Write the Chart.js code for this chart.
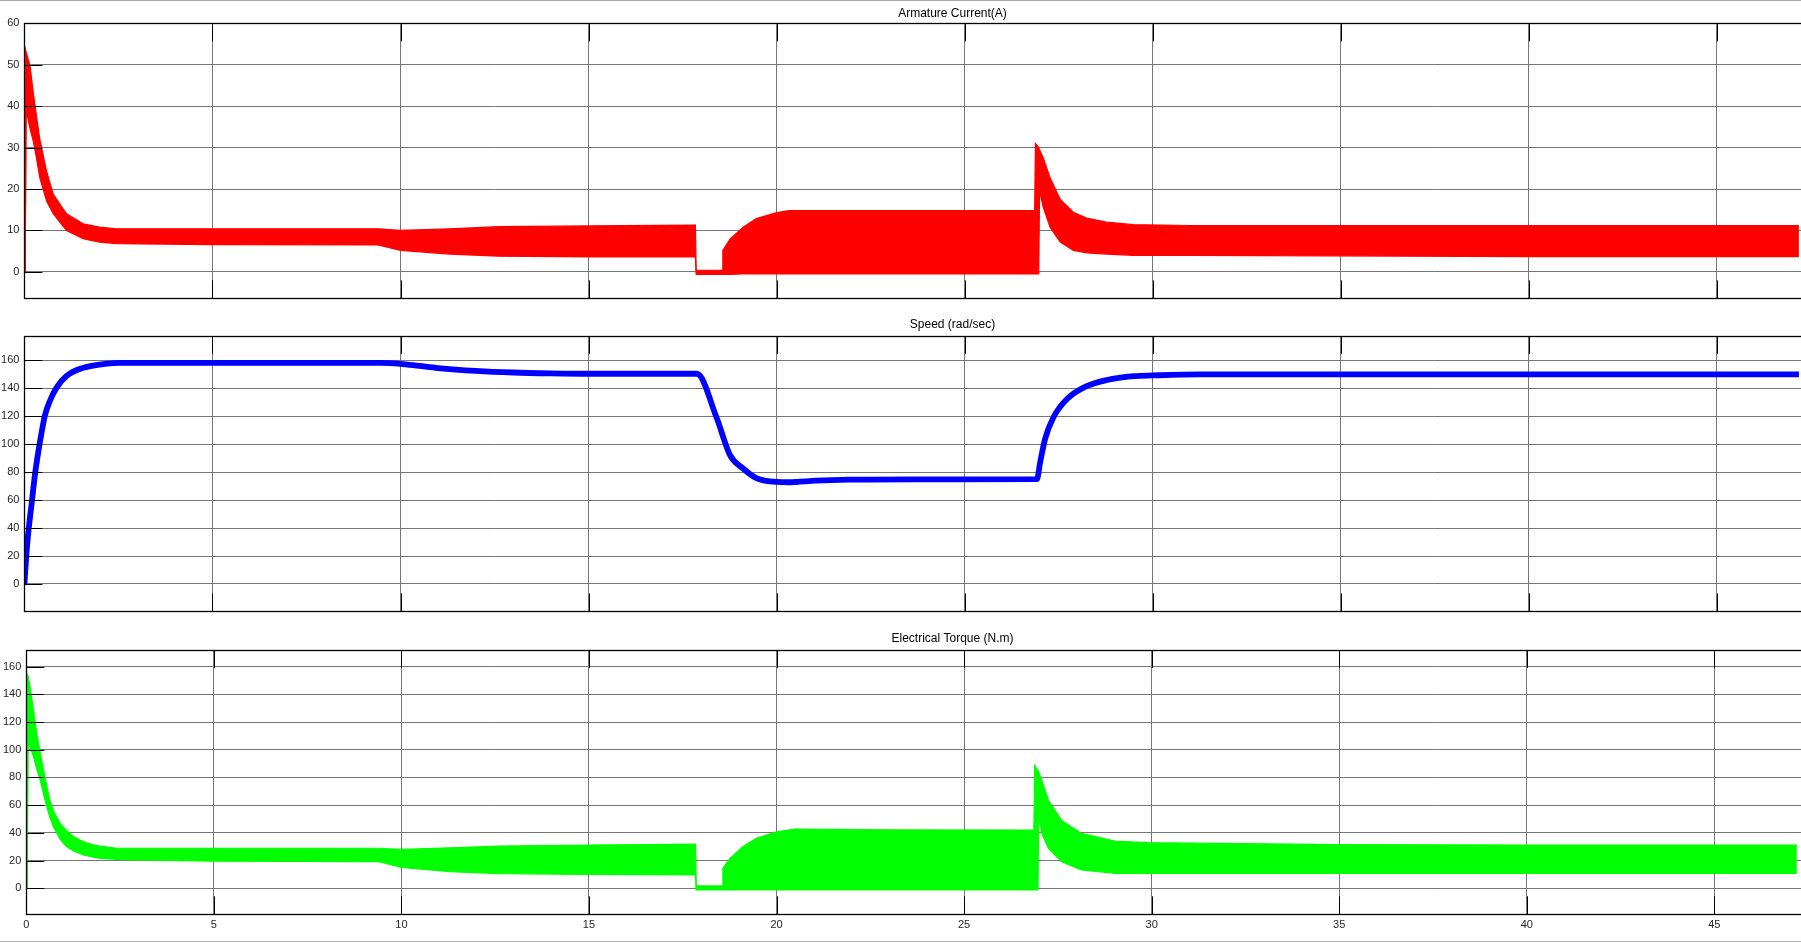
<!DOCTYPE html>
<html>
<head>
<meta charset="utf-8">
<script src="https://cdn.jsdelivr.net/npm/chart.js@4.4.1/dist/chart.umd.min.js"></script>
<style>
  html, body { margin: 0; padding: 0; background: #ffffff; width: 1801px; height: 942px; overflow: hidden; }
  .wrap { position: absolute; left: 0; width: 1912px; }
  .topline { position: absolute; left: 0; top: 0; width: 1801px; height: 1px; background: #a8a8a8; }
  .botline { position: absolute; left: 0; top: 941px; width: 1801px; height: 1px; background: #b8b8b8; }
</style>
</head>
<body>
<div class="topline"></div>
<div class="wrap" style="top:0px;height:310px;"><canvas id="c1"></canvas></div>
<div class="wrap" style="top:310px;height:313px;"><canvas id="c2"></canvas></div>
<div class="wrap" style="top:623px;height:319px;"><canvas id="c3"></canvas></div>
<div class="botline"></div>
<script>
// ---------------- DATA ----------------
const xTickValues = [0, 5, 10, 15, 20, 25, 30, 35, 40, 45, 50];

// Armature current (A) — ripple band: upper / lower envelope
const currentTime  = [0, 0.02, 0.04, 0.05, 0.15, 0.24, 0.32, 0.41, 0.59, 0.77, 1.12, 1.56, 2.0, 2.45, 5, 9.4, 10, 11.3, 12.6, 15, 17.84, 17.86, 18.55, 18.57, 18.76, 19.1, 19.46, 20.0, 20.34, 23, 26.86, 26.88, 26.97, 26.99, 27.09, 27.27, 27.54, 27.89, 28.24, 28.77, 29.48, 31, 40, 47.18];
const currentUpper = [0, 54, 54, 53, 49.7, 43, 37.8, 32, 24.3, 18.7, 14, 11.6, 10.8, 10.4, 10.4, 10.4, 10.0, 10.4, 10.9, 11.1, 11.3, 0.4, 0.4, 5.2, 7.9, 10.7, 12.9, 14.3, 14.8, 14.8, 14.8, 31, 30, 29.5, 27.5, 22.7, 17.5, 14.4, 13.0, 12.0, 11.4, 11.2, 11.2, 11.2];
const currentLower = [0, 0, 0, 39, 34.6, 31.4, 27.5, 22.7, 17.1, 14, 10, 8, 7.2, 6.8, 6.6, 6.5, 5.2, 4.3, 3.8, 3.6, 3.6, -0.6, -0.6, -0.6, -0.6, -0.5, -0.5, -0.5, -0.5, -0.5, -0.5, -0.5, -0.5, 19.5, 15.6, 10.8, 7.2, 5.2, 4.6, 4.3, 4.0, 4.0, 3.7, 3.7];
const currentTicks = [0, 10, 20, 30, 40, 50, 60];

// Speed (rad/sec)
const speedTime   = [0, 0.05, 0.10, 0.19, 0.28, 0.37, 0.46, 0.545, 0.68, 0.855, 1.12, 1.56, 2.0, 2.5, 5, 9.5, 10, 10.5, 11, 12, 13, 14, 15, 17.88, 18.4, 18.76, 19.1, 19.46, 20.0, 20.34, 21.05, 21.93, 23.7, 26.92, 27.01, 27.14, 27.36, 27.72, 28.16, 28.78, 29.49, 30.02, 31.26, 35, 47.18];
const speedValues = [0, 20, 35.7, 56.9, 78.1, 94.6, 108.7, 120.5, 131.1, 140.5, 148.8, 154.6, 157, 158.2, 158.2, 158.2, 157.5, 156, 154.5, 152.5, 151.3, 150.7, 150.4, 150.4, 119.3, 92.2, 82.8, 75.8, 73, 72.8, 73.9, 74.6, 74.9, 75, 87.6, 104, 119.3, 132.3, 140.5, 145.9, 148.7, 149.2, 149.9, 150, 150];
const speedTicks  = [0, 20, 40, 60, 80, 100, 120, 140, 160];

// Electrical torque (N.m) — ripple band: upper / lower envelope
const torqueTime  = [0, 0.02, 0.04, 0.05, 0.10, 0.19, 0.28, 0.37, 0.46, 0.545, 0.63, 0.72, 0.9, 1.08, 1.26, 1.52, 1.79, 1.97, 2.42, 2.86, 5, 9.4, 10, 11.3, 12.6, 15, 17.84, 17.86, 18.55, 18.57, 18.76, 19.1, 19.46, 20.0, 20.5, 23, 26.86, 26.88, 26.97, 26.99, 27.07, 27.25, 27.6, 28.13, 29.02, 29.9, 35, 40, 47.2];
const torqueUpper = [0, 155, 155, 153, 145.5, 128.7, 111.8, 98, 85.4, 74, 63.7, 56, 46.9, 41.5, 37.3, 33.5, 31.3, 30.5, 28.9, 28.9, 28.9, 28.9, 28, 29.2, 30.5, 31.2, 31.9, 1.7, 1.7, 14.4, 21.6, 30, 36, 40.8, 42.7, 42.2, 42, 88.7, 85, 84, 78, 63.5, 49, 39.6, 34, 32.9, 31.5, 31.2, 31.2];
const torqueLower = [0, 0, 0, 105, 102, 95, 86, 78, 68, 58.9, 51, 44.5, 35.5, 30, 27, 24, 22.5, 21.6, 20.8, 20.5, 19.5, 19.2, 15, 12, 10.6, 10, 9.6, -1.2, -1.2, -1.2, -1.2, -1.2, -1.2, -1.2, -1.2, -1.2, -1.2, -1.2, -1.2, 54, 39.6, 28.8, 19.2, 13.2, 10.8, 10.8, 10.8, 10.8, 10.8];
const torqueTicks = [0, 20, 40, 60, 80, 100, 120, 140, 160];

// ---------------- HELPERS ----------------
const FONT = '"Liberation Sans", Arial, Helvetica, sans-serif';
const GRID = '#767676';
const pts = (xs, ys) => xs.map((x, i) => ({ x: x, y: ys[i] }));

const frameTicks = {
  id: 'frameTicks',
  afterDraw(chart) {
    const { ctx, chartArea: { left, right, top, bottom }, scales: { x, y } } = chart;
    const L = 18;
    ctx.save();
    ctx.strokeStyle = '#000';
    ctx.lineWidth = 1;
    ctx.beginPath();
    x.ticks.forEach(t => {
      const px = Math.round(x.getPixelForValue(t.value)) + 0.5;
      ctx.moveTo(px, top); ctx.lineTo(px, top + L);
      ctx.moveTo(px, bottom); ctx.lineTo(px, bottom - L);
    });
    y.ticks.forEach(t => {
      const py = Math.round(y.getPixelForValue(t.value)) + 0.5;
      ctx.moveTo(left, py); ctx.lineTo(left + L, py);
      ctx.moveTo(right, py); ctx.lineTo(right - L, py);
    });
    ctx.stroke();
    ctx.lineWidth = 1.3;
    ctx.strokeRect(Math.round(left) + 0.5, Math.round(top) + 0.5, Math.round(right - left), Math.round(bottom - top));
    ctx.restore();
  }
};

function makeChart(id, cfg) {
  const ctxEl = document.getElementById(id);
  return new Chart(ctxEl, {
    type: 'line',
    data: { datasets: cfg.datasets },
    options: {
      responsive: true,
      maintainAspectRatio: false,
      animation: false,
      events: [],
      layout: { padding: { left: 0, right: 7, top: 0, bottom: 0 } },
      plugins: {
        legend: { display: false },
        tooltip: { enabled: false },
        title: {
          display: true,
          text: cfg.title,
          color: '#000',
          font: { family: FONT, size: 12, weight: 'normal', lineHeight: 1.2 },
          padding: { top: cfg.tPad[0], bottom: cfg.tPad[1] }
        }
      },
      scales: {
        x: {
          type: 'linear',
          min: 0, max: 50,
          afterBuildTicks: s => { s.ticks = xTickValues.map(v => ({ value: v })); },
          afterFit: s => { s.height = cfg.xHeight; },
          grid: { color: GRID, lineWidth: 1, drawTicks: false },
          border: { display: false },
          ticks: {
            display: cfg.xLabels,
            padding: 4,
            color: '#262626',
            font: { family: FONT, size: 11 },
            maxRotation: 0,
            autoSkip: false
          }
        },
        y: {
          type: 'linear',
          min: cfg.yMin, max: cfg.yMax,
          afterBuildTicks: s => { s.ticks = cfg.yTicks.map(v => ({ value: v })); },
          afterFit: s => { s.width = cfg.yWidth; },
          grid: { color: GRID, lineWidth: 1, drawTicks: false },
          border: { display: false },
          ticks: {
            padding: 5,
            color: '#262626',
            font: { family: FONT, size: 11 },
            autoSkip: false
          }
        }
      }
    },
    plugins: [frameTicks]
  });
}

function band(xs, up, lo, color) {
  return [
    { data: pts(xs, up), borderColor: color, backgroundColor: color, borderWidth: 1.2, pointRadius: 0, tension: 0, fill: '+1' },
    { data: pts(xs, lo), borderColor: color, backgroundColor: color, borderWidth: 1.2, pointRadius: 0, tension: 0, fill: false }
  ];
}

makeChart('c1', {
  title: 'Armature Current(A)',
  tPad: [6.8, 2.1],
  xHeight: 8, xLabels: false, yWidth: 24.4,
  yMin: -6.4, yMax: 60, yTicks: currentTicks,
  datasets: band(currentTime, currentUpper, currentLower, '#ff0000')
});

makeChart('c2', {
  title: 'Speed (rad/sec)',
  tPad: [7.8, 3.8],
  xHeight: 8, xLabels: false, yWidth: 24.4,
  yMin: -19.6, yMax: 177.4, yTicks: speedTicks,
  datasets: [{ data: pts(speedTime, speedValues), borderColor: '#0000ff', borderWidth: 5.8, pointRadius: 0, cubicInterpolationMode: 'monotone', fill: false }]
});

makeChart('c3', {
  title: 'Electrical Torque (N.m)',
  tPad: [8.4, 4.2],
  xHeight: 27.7, xLabels: true, yWidth: 26.3,
  yMin: -18.8, yMax: 172, yTicks: torqueTicks,
  datasets: band(torqueTime, torqueUpper, torqueLower, '#00ff00')
});
</script>
</body>
</html>
